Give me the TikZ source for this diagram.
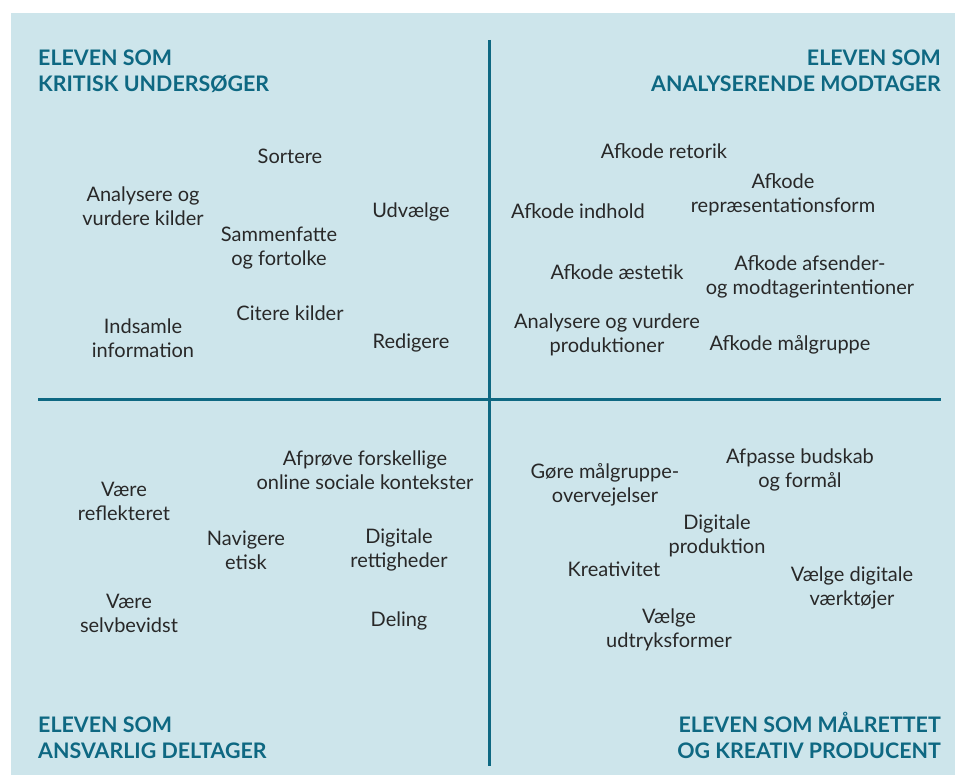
\documentclass[tikz,border=0pt]{standalone}
\usepackage{fontspec}
\setmainfont{Lato}
\usepackage{tikz}

\definecolor{panel}{RGB}{205,229,235}
\definecolor{petrol}{RGB}{14,104,130}
\definecolor{skill}{RGB}{40,40,40}

\begin{document}
\begin{tikzpicture}[x=1pt, y=-1pt]
		\tikzstyle{skill}=[text=skill, align=center, inner sep=0pt, yshift=-1pt, font=\fontsize{20}{24}\selectfont];
		\tikzstyle{title}=[text=petrol, inner sep=0pt, font=\fontsize{21.4}{26.5}\selectfont\bfseries];
		\tikzstyle{axis}=[draw=petrol, line width=3pt];

		\useasboundingbox (0,0) rectangle (955,775);
		\fill[panel] (11,13) rectangle (955,775);

		% axes
		\coordinate (top) at (489.5,40);
		\coordinate (bottom) at (489.5,766);
		\coordinate (left) at (38,399);
		\coordinate (right) at (941,399);
		\draw[axis] (left) -- (right);
		\draw[axis] (top) -- (bottom);

		% titles
		\node[title, anchor=north west, align=left] (tl) at (38,49.5) {ELEVEN SOM\\KRITISK UNDERSØGER};
		\node[title, anchor=north east, align=right] (tr) at (941,49.5) {ELEVEN SOM\\ANALYSERENDE MODTAGER};
		\node[title, anchor=south west, align=left] (bl) at (38,759) {ELEVEN SOM\\ANSVARLIG DELTAGER};
		\node[title, anchor=south east, align=right] (br) at (941,759) {ELEVEN SOM MÅLRETTET\\OG KREATIV PRODUCENT};

		% kritisk undersøger
		\node[skill] (sortere) at (290,155) {Sortere};
		\node[skill] (analysere) at (143,205) {Analysere og\\vurdere kilder};
		\node[skill] (udvaelge) at (411,211) {Udvælge};
		\node[skill] (sammenfatte) at (279,247) {Sammenfatte\\og fortolke};
		\node[skill] (citere) at (290,312) {Citere kilder};
		\node[skill] (indsamle) at (143,337) {Indsamle\\information};
		\node[skill] (redigere) at (411,342) {Redigere};

		% analyserende modtager
		\node[skill] (retorik) at (664,150) {Afkode retorik};
		\node[skill] (indhold) at (578,210) {Afkode indhold};
		\node[skill] (repr) at (783,194) {Afkode\\repræsentationsform};
		\node[skill] (aestetik) at (617,271) {Afkode æstetik};
		\node[skill] (afsender) at (810,276) {Afkode afsender-\\og modtagerintentioner};
		\node[skill] (produktioner) at (607,334) {Analysere og vurdere\\produktioner};
		\node[skill] (maalgruppe) at (790,344) {Afkode målgruppe};

		% ansvarlig deltager
		\node[skill] (afproeve) at (365,469) {Afprøve forskellige\\online sociale kontekster};
		\node[skill] (reflekteret) at (124,500) {Være\\reflekteret};
		\node[skill] (navigere) at (246,549) {Navigere\\etisk};
		\node[skill] (rettigheder) at (399,549) {Digitale\\rettigheder};
		\node[skill] (selvbevidst) at (129,612) {Være\\selvbevidst};
		\node[skill] (deling) at (399,620) {Deling};

		% målrettet og kreativ producent
		\node[skill] (overvejelser) at (605,484) {Gøre målgruppe-\\overvejelser};
		\node[skill] (budskab) at (800,469) {Afpasse budskab\\og formål};
		\node[skill] (produktion) at (717,535) {Digitale\\produktion};
		\node[skill] (kreativitet) at (614,568) {Kreativitet};
		\node[skill] (vaerktoejer) at (852,587) {Vælge digitale\\værktøjer};
		\node[skill] (udtryk) at (669,629) {Vælge\\udtryksformer};
	\end{tikzpicture}
\end{document}
